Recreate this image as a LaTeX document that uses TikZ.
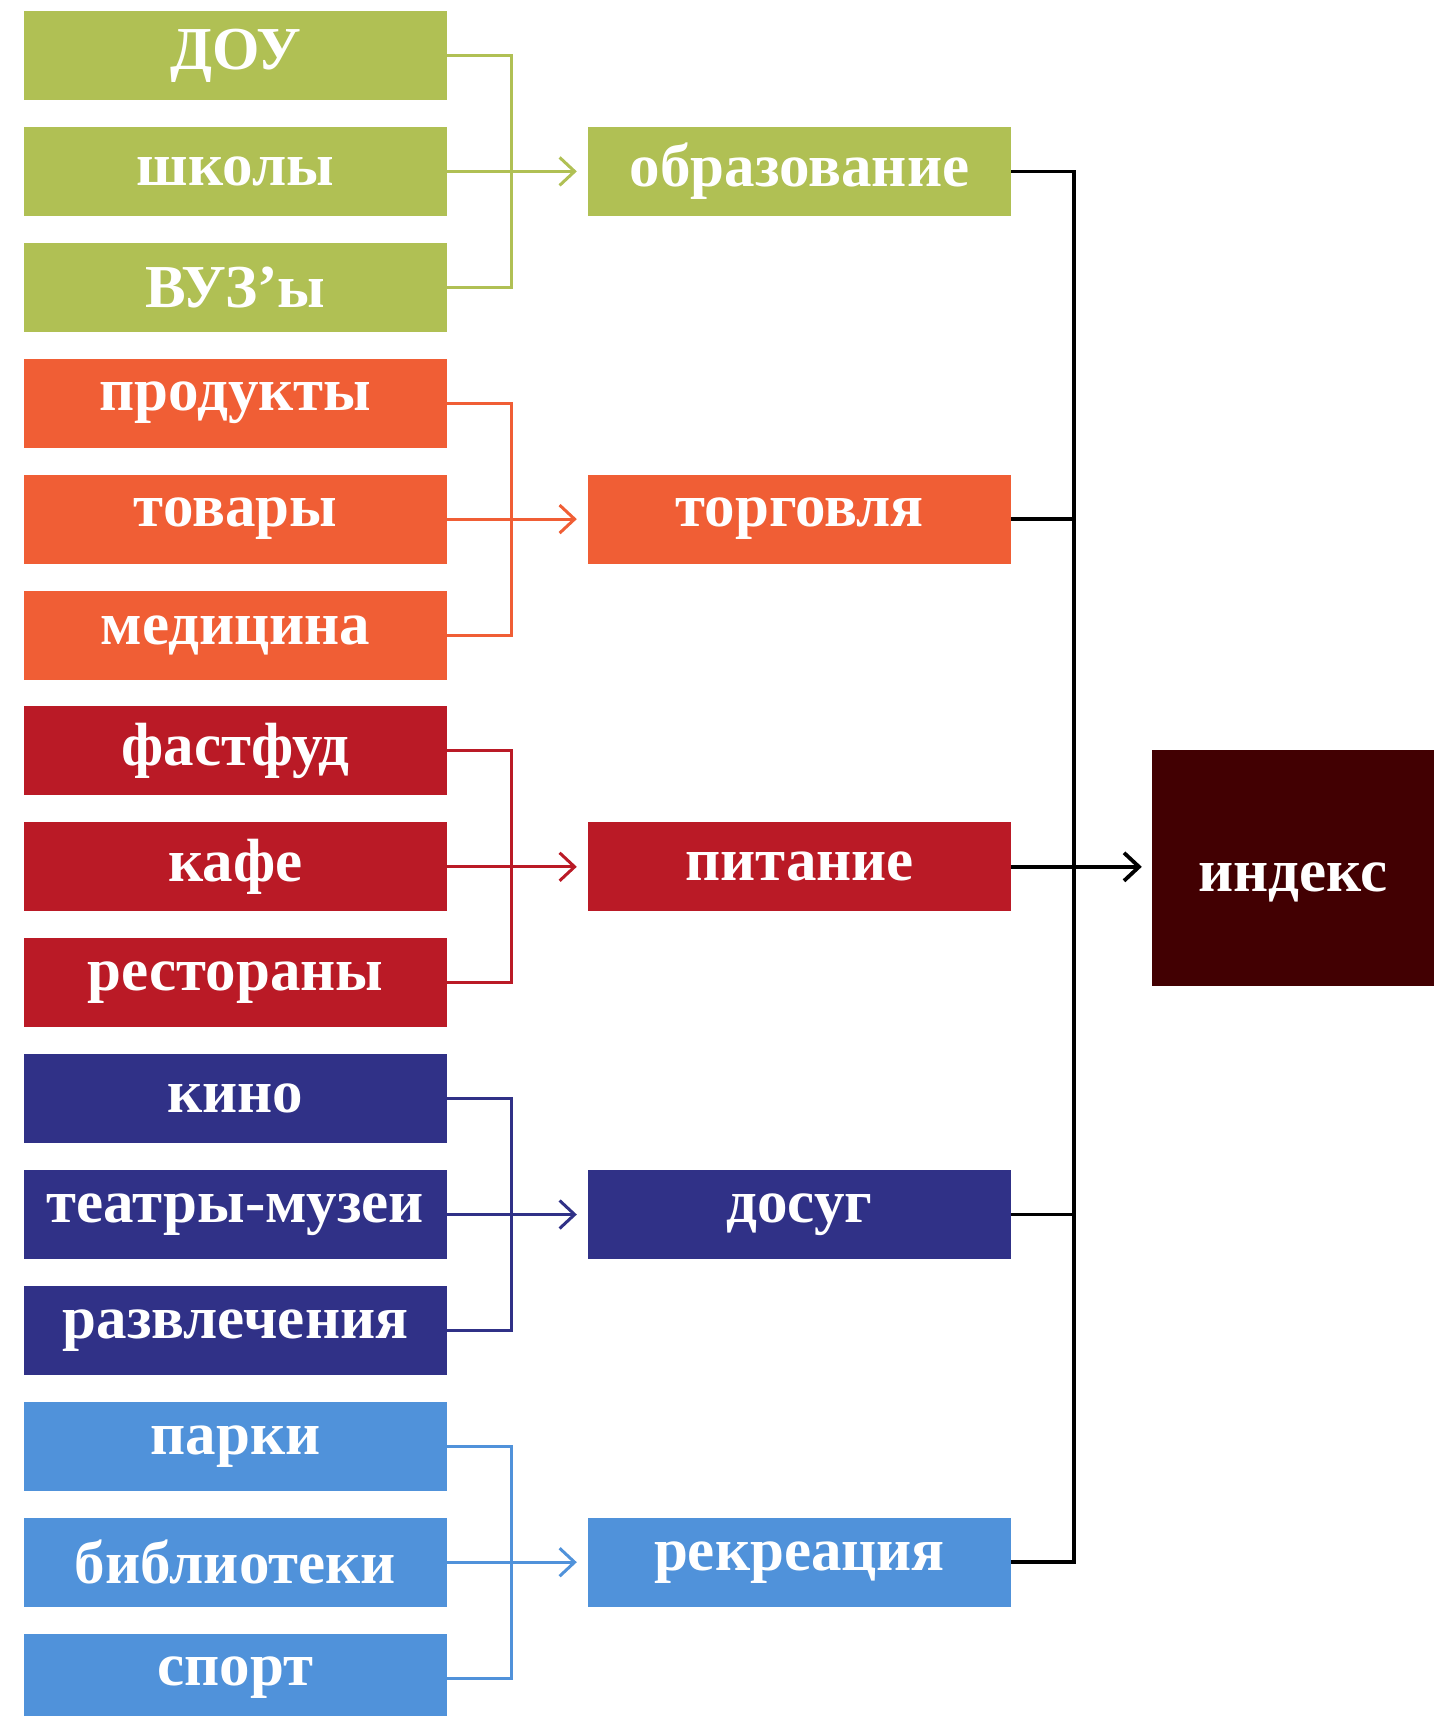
\documentclass[tikz,border=0pt]{standalone}
\usepackage{fontspec}
\setmainfont{Liberation Serif}
\usetikzlibrary{arrows.meta,calc}
\definecolor{cgreen}{RGB}{176,192,84}
\definecolor{corange}{RGB}{240,94,53}
\definecolor{cred}{RGB}{186,26,38}
\definecolor{cnavy}{RGB}{48,49,135}
\definecolor{cblue}{RGB}{80,146,218}
\definecolor{cindex}{RGB}{66,0,2}
\begin{document}
\begin{tikzpicture}[x=1pt,y=-1pt,
  box/.style={fill=#1, text=white, minimum width=423pt, minimum height=89pt, inner sep=0pt,
    font=\fontsize{61}{61}\selectfont\bfseries, anchor=center},
  link/.style={draw=#1, line width=3pt},
  arr/.style={draw=#1, line width=3pt, -{Straight Barb[length=15pt,width=28pt,line width=3pt]}, shorten >=11pt},
  blk/.style={line width=3.8pt},
]
\useasboundingbox (0,0) rectangle (1445,1716);
% left boxes
\foreach \i/\t/\c in {0/ДОУ/cgreen,1/школы/cgreen,2/ВУЗ’ы/cgreen,
  3/продукты/corange,4/товары/corange,5/медицина/corange,
  6/фастфуд/cred,7/кафе/cred,8/рестораны/cred,
  9/кино/cnavy,10/театры-музеи/cnavy,11/развлечения/cnavy,
  12/парки/cblue,13/библиотеки/cblue,14/спорт/cblue}
  \node[box=\c] (L\i) at (235.5, 55.5+115.9*\i) {\t};
% middle boxes
\foreach \g/\t/\c in {0/образование/cgreen,1/торговля/corange,2/питание/cred,3/досуг/cnavy,4/рекреация/cblue}
  \node[box=\c] (M\g) at (799.5, 55.5+115.9*3*\g+115.9) {\t};
% index
\node[fill=cindex, text=white, minimum width=282pt, minimum height=236pt, inner sep=0pt] (I) at (1293,868) {};
\node[text=white, inner sep=0pt, font=\fontsize{61}{61}\selectfont\bfseries] (It) at ($(I.center)+(0,14)$) {индекс};
% group connectors
\foreach \g/\c in {0/cgreen,1/corange,2/cred,3/cnavy,4/cblue}{
  \pgfmathtruncatemacro{\a}{3*\g}
  \pgfmathtruncatemacro{\b}{3*\g+1}
  \pgfmathtruncatemacro{\e}{3*\g+2}
  \coordinate (V\g) at (511, 0);
  \draw[link=\c] (L\a.east) -| (V\g |- L\e.east) -- (L\e.east);
  \draw[arr=\c] (L\b.east) -- (M\g.west);
}
% black bus
\coordinate (bus) at (1074,0);
\draw[blk] (M0.east) -| (bus |- M4.east) -- (M4.east);
\draw[blk] (M1.east) -- (M1.east -| bus);
\draw[blk] (M3.east) -- (M3.east -| bus);
\draw[blk, -{Straight Barb[length=15pt,width=28pt,line width=3.8pt]}, shorten >=10pt] (M2.east) -- (I.west |- M2.east);
\end{tikzpicture}
\end{document}
